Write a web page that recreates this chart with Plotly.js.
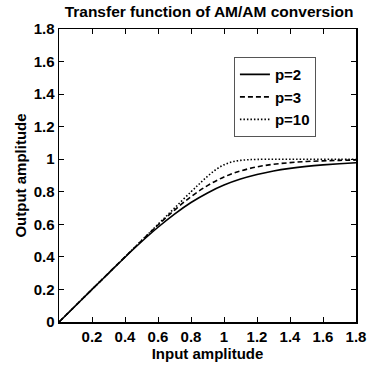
<!DOCTYPE html>
<html><head><meta charset="utf-8">
<script src="https://cdn.plot.ly/plotly-3.0.1.min.js"></script>
<style>html,body{margin:0;padding:0;background:#fff}#c{width:368px;height:365px}</style>
</head><body><div id="c"></div>
<script>
// Values
const x2 = [0, 0.1, 0.2, 0.3, 0.4, 0.5, 0.6, 0.7, 0.8, 0.9, 1.0, 1.1, 1.2, 1.3, 1.4, 1.5, 1.6, 1.7, 1.8];
const yP2 = [0, 0.1, 0.2, 0.299, 0.398, 0.493, 0.582, 0.663, 0.734, 0.793, 0.841, 0.878, 0.906, 0.928, 0.944, 0.956, 0.965, 0.972, 0.978];
const x3 = [0, 0.1, 0.2, 0.3, 0.4, 0.5, 0.6, 0.7, 0.8, 0.9, 1.0, 1.1, 1.2, 1.3, 1.4, 1.5, 1.6, 1.7, 1.8];
const yP3 = [0, 0.1, 0.2, 0.3, 0.4, 0.499, 0.596, 0.687, 0.770, 0.838, 0.891, 0.928, 0.953, 0.969, 0.979, 0.986, 0.990, 0.993, 0.995];
const x10 = [0, 0.1, 0.2, 0.3, 0.4, 0.5, 0.6, 0.7, 0.8, 0.85, 0.9, 0.95, 1.0, 1.05, 1.1, 1.15, 1.2, 1.3, 1.4, 1.5, 1.6, 1.7, 1.8];
const yP10 = [0, 0.1, 0.2, 0.3, 0.4, 0.5, 0.6, 0.7, 0.800, 0.848, 0.895, 0.936, 0.966, 0.984, 0.993, 0.997, 0.999, 1.0, 1.0, 1.0, 1.0, 1.0, 1.0];
const names = ['p=2', 'p=3', 'p=10'];
const xTicks = [0.2, 0.4, 0.6, 0.8, 1, 1.2, 1.4, 1.6, 1.8];
const yTicks = [0, 0.2, 0.4, 0.6, 0.8, 1, 1.2, 1.4, 1.6, 1.8];

const F = 'Liberation Sans, Arial, sans-serif';
const traces = [
  {x: x2, y: yP2, name: names[0], mode: 'lines', line: {color: '#000', width: 1.6, dash: 'solid', shape: 'spline'}},
  {x: x3, y: yP3, name: names[1], mode: 'lines', line: {color: '#000', width: 1.6, dash: '5px,3px', shape: 'spline'}},
  {x: x10, y: yP10, name: names[2], mode: 'lines', line: {color: '#000', width: 1.6, dash: '1.5px,2px', shape: 'spline'}}
];
const axBase = {
  showgrid: false, zeroline: false, showline: true, linecolor: '#000', linewidth: 1.5,
  mirror: 'ticks', ticks: 'inside', ticklen: 5, tickwidth: 1, tickcolor: '#000',
  tickfont: {family: F, size: 15, color: '#000', weight: 'bold'}
};
const layout = {
  width: 368, height: 365,
  margin: {l: 59, r: 12, t: 29, b: 43},
  paper_bgcolor: '#fff', plot_bgcolor: '#fff',
  title: {text: '<b>Transfer function of AM/AM conversion</b>', font: {family: F, size: 15.5, color: '#000'},
          x: 0.568, xanchor: 'center', y: 0.967, yanchor: 'middle'},
  xaxis: Object.assign({}, axBase, {range: [0, 1.8], tickvals: xTicks, ticktext: xTicks.map(String),
    title: {text: '<b>Input amplitude</b>', font: {family: F, size: 15, color: '#000'}, standoff: 0}}),
  yaxis: Object.assign({}, axBase, {range: [0, 1.8], tickvals: yTicks, ticktext: yTicks.map(String),
    title: {text: '<b>Output amplitude</b>', font: {family: F, size: 15, color: '#000'}, standoff: 3}}),
  showlegend: true,
  legend: {x: 0.589, y: 0.904, xanchor: 'left', yanchor: 'top', bgcolor: '#fff', bordercolor: '#555', borderwidth: 1,
           font: {family: F, size: 15, color: '#000', weight: 'bold'}, tracegroupgap: 0}
};
Plotly.newPlot('c', traces, layout, {displayModeBar: false, staticPlot: true});
</script></body></html>
